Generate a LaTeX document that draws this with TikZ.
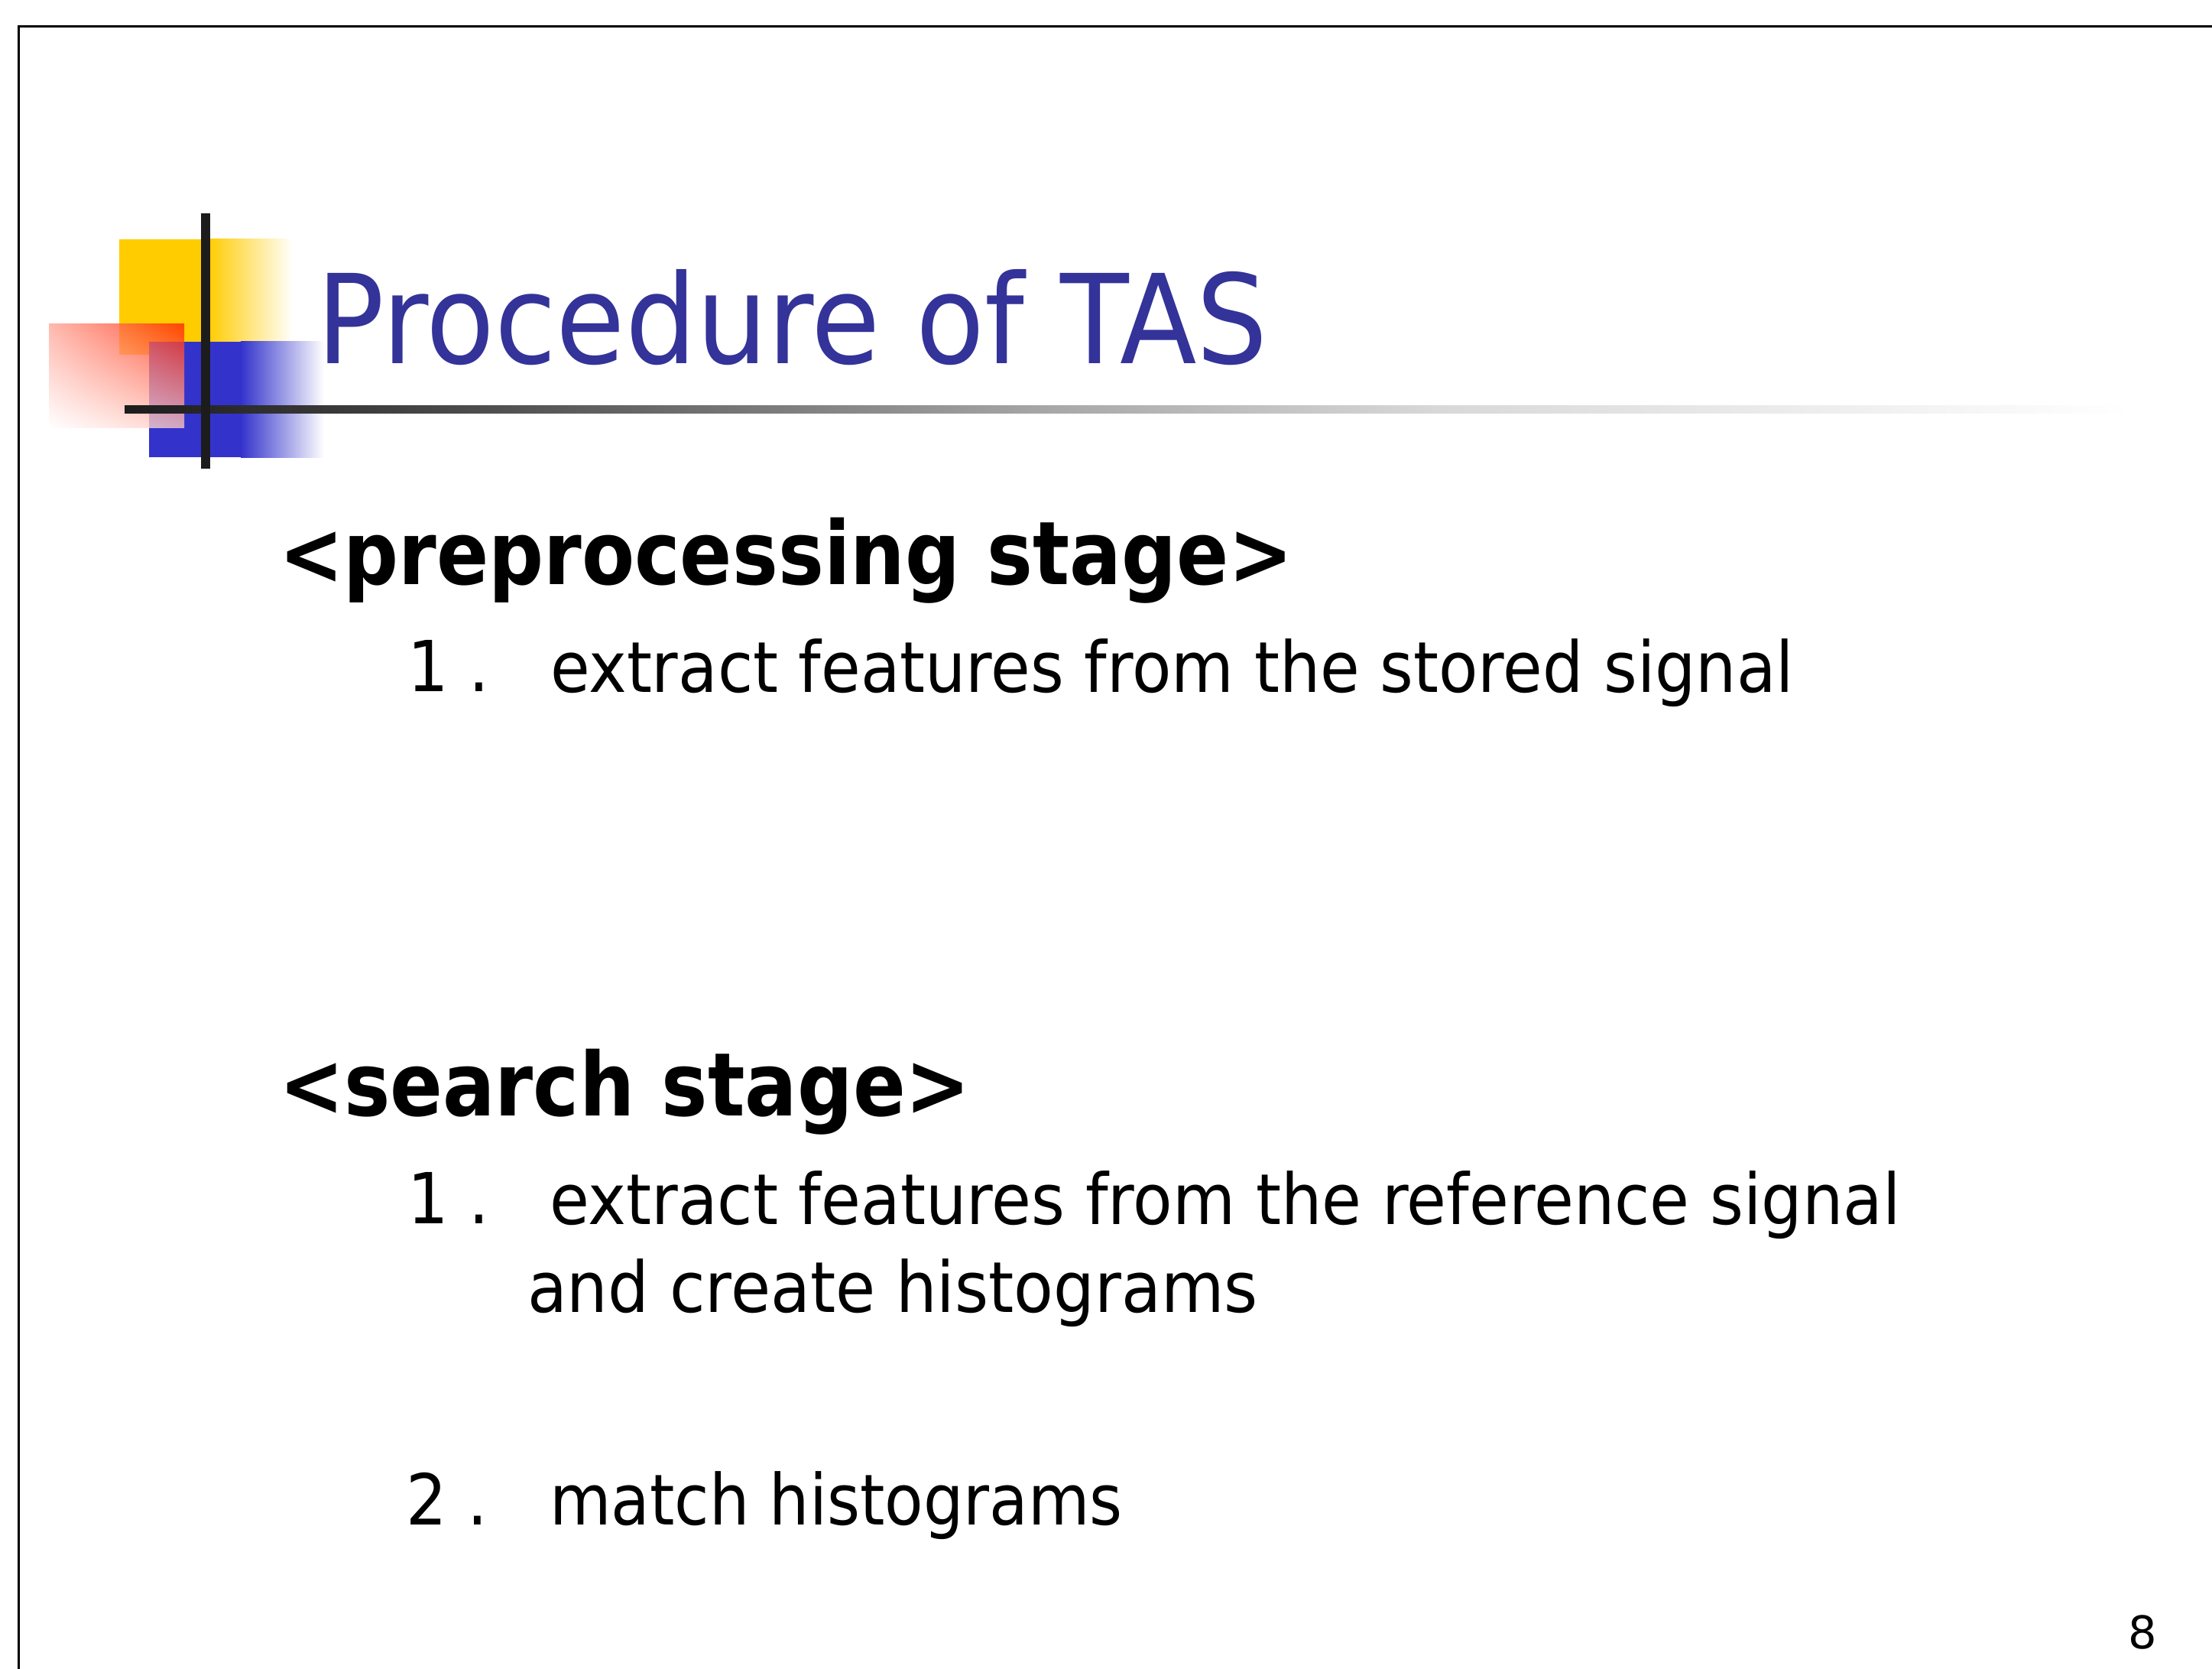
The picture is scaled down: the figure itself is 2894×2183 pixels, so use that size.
\documentclass[tikz,border=0pt]{standalone}
\usepackage{fontspec}
\setmainfont{DejaVu Sans}
\usepackage{graphicx}
\usetikzlibrary{shadings}

\definecolor{titleblue}{HTML}{333399}
\definecolor{logoyellow}{HTML}{FFCC00}
\definecolor{logoblue}{HTML}{3333CC}
\definecolor{logored}{HTML}{FF2200}
\definecolor{barblack}{HTML}{1C1C1C}
\definecolor{ruleA}{HTML}{1C1C1C}
\definecolor{ruleB}{HTML}{4A4A4A}
\definecolor{ruleC}{HTML}{A8A8A8}
\definecolor{ruleD}{HTML}{D8D8D8}

% one pixel of the slide grid
\newlength\pxu
\setlength\pxu{0.25pt}
% set a line of text to a given width (in pixels), keeping its height
\newcommand\fitto[2]{\resizebox{#1\pxu}{\height}{#2}}

% title underline: dark on the left, fading out to white on the right
\pgfdeclarehorizontalshading{titlerule}{100bp}{%
  color(0bp)=(ruleA); color(25bp)=(ruleA); color(33.28bp)=(ruleB);
  color(48.16bp)=(ruleC); color(57.68bp)=(ruleD);
  color(75bp)=(white); color(100bp)=(white)}

\begin{document}
\begin{tikzpicture}[x=0.25pt, y=-0.25pt,
  txt/.style={anchor=base west, inner sep=0pt, outer sep=0pt},
  titletext/.style={txt, text=titleblue, font=\fontsize{40.5pt}{48pt}\selectfont},
  headtext/.style={txt, font=\bfseries\fontsize{28.75pt}{34pt}\selectfont},
  bodytext/.style={txt, font=\fontsize{23pt}{28pt}\selectfont},
  pagetext/.style={txt, font=\fontsize{14.75pt}{18pt}\selectfont},
  frameline/.style={draw=black, line width=0.75pt},
  logobar/.style={fill=barblack}
]
\useasboundingbox (0,0) rectangle (2894,2183);
\fill[white] (0,0) rectangle (2894,2183);

% slide frame (top and left edges)
\draw[frameline] (24.5,2190) -- (24.5,34.5) -- (2900,34.5);

% logo: yellow square fading right
\fill[logoyellow] (156,313) rectangle (273,464);
\shade[left color=logoyellow, right color=white] (272,313) rectangle (383,464);
% logo: blue square fading right
\fill[logoblue] (195,447) rectangle (316,598);
\shade[left color=logoblue, right color=white] (315,447) rectangle (424,598);
% logo: translucent red square, fading towards lower left
\shade[upper right=logored, upper left=logored!40!white,
       lower left=white, lower right=logored!25!white, opacity=0.78]
  (64,424) rectangle (241,559);
% logo: cross bars and title underline
\shade[shading=titlerule] (163,530) rectangle (2790,540);
\fill[logobar] (263,279) rectangle (275,613);

% title
\node[titletext] (title) at (414,476) {\fitto{1245}{Procedure of TAS}};

% preprocessing stage
\node[headtext] (prehead) at (365,764) {\fitto{1327}{<preprocessing stage>}};
\node[bodytext] (prenum) at (533,904) {\fitto{107}{1 .}};
\node[bodytext] (pretext) at (720,905) {\fitto{1627}{extract features from the stored signal}};

% search stage
\node[headtext] (searchhead) at (365,1459) {\fitto{905}{<search stage>}};
\node[bodytext] (snumA) at (533,1600) {\fitto{107}{1 .}};
\node[bodytext] (stextA) at (719,1601) {\fitto{1768}{extract features from the reference signal}};
\node[bodytext] (stextAb) at (690,1716) {\fitto{956}{and create histograms}};
\node[bodytext] (snumB) at (531,1994) {\fitto{107}{2 .}};
\node[bodytext] (stextB) at (719,1994) {\fitto{750}{match histograms}};

% page number
\node[pagetext] (pagenum) at (2784,2156) {8};
\end{tikzpicture}
\end{document}
